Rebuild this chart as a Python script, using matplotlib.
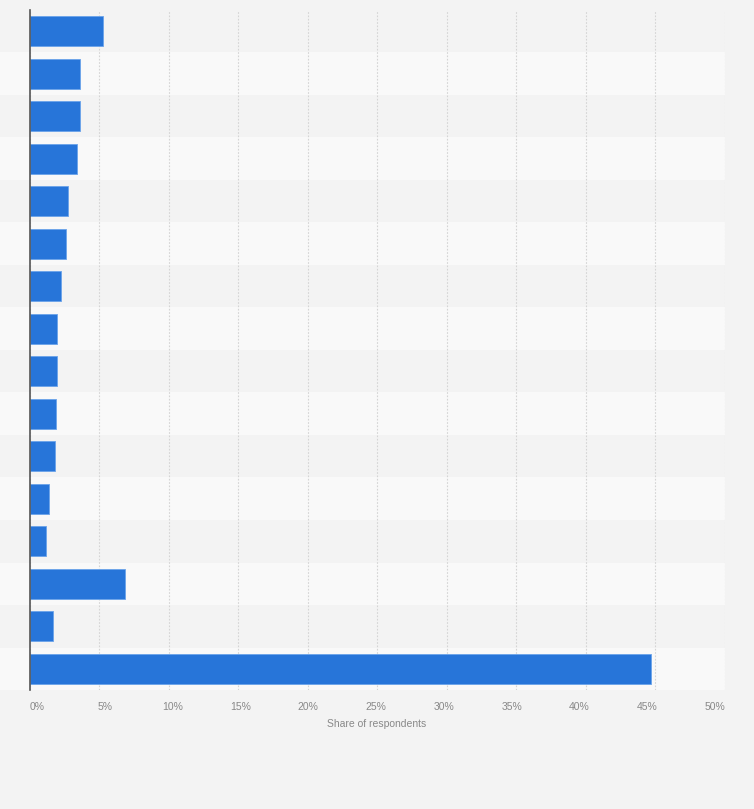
import matplotlib
matplotlib.use("Agg")
import matplotlib.pyplot as plt

plt.rcParams["font.family"] = ["Liberation Sans", "DejaVu Sans"]

# share of respondents per answer (top to bottom), in %
shares = [5.3, 3.6, 3.6, 3.4, 2.8, 2.6, 2.3, 2.0, 1.95, 1.9, 1.8, 1.4, 1.2, 6.9, 1.7, 44.7]
tick_values = [0, 5, 10, 15, 20, 25, 30, 35, 40, 45, 50]
tick_labels = [f"{v}%" for v in tick_values]

BAR = "#2775d9"
FIG_BG = "#f3f3f3"
BAND_DARK = "#f3f3f3"
BAND_LIGHT = "#f9f9f9"

fig = plt.figure(figsize=(7.54, 8.09), dpi=100, facecolor=FIG_BG)
ax = fig.add_axes([29.5 / 754, 1 - 690 / 809, 695.5 / 754, 680 / 809])
ax.set_facecolor("none")

n = len(shares)
pos = list(range(n))

# alternating row bands, running to the left figure edge
for i in pos:
    ax.axhspan(i - 0.5, i + 0.5, xmin=-29.5 / 695.5, xmax=1,
               color=BAND_DARK if i % 2 == 0 else BAND_LIGHT,
               lw=0, zorder=0, clip_on=False)

ax.barh(pos, shares, height=0.7, color=BAR, edgecolor="#6aa3ea",
        linewidth=0.6, zorder=3)

ax.set_xlim(0, 50)
ax.set_ylim(n - 0.5, -0.5)

ax.set_xticks(tick_values)
ax.set_xticklabels([])
ax.set_yticks([])
ax.tick_params(length=0)
ax.grid(axis="x", color="#d4d4d4", linestyle=(0, (1.5, 1.5)), lw=0.8, zorder=1)
for s in ["top", "right", "bottom"]:
    ax.spines[s].set_visible(False)
ax.spines["left"].set_color("#555555")
ax.spines["left"].set_linewidth(1.2)
ax.spines["left"].set_zorder(4)

# tick labels sit slightly compressed against the grid, as in the source
for k, (v, lab) in enumerate(zip(tick_values, tick_labels)):
    xpix = 37 + k * (715 - 37) / 10
    fig.text(xpix / 754, 1 - 707 / 809, lab, ha="center", va="center",
             fontsize=7.5, color="#888888")

fig.text(377 / 754, 1 - 724 / 809, "Share of respondents", ha="center",
         va="center", fontsize=7.5, color="#888888")

fig.savefig("out.png", dpi=100, facecolor=FIG_BG)
